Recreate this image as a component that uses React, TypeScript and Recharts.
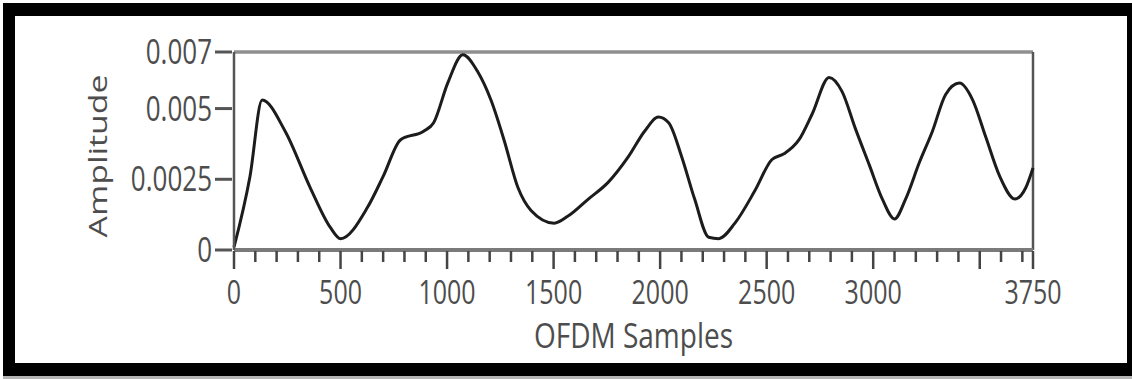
import React from 'react';
import { LineChart, Line, XAxis, YAxis, ReferenceLine } from 'recharts';

// OFDM sample index vs amplitude
const samples = [
  0, 75, 132, 240, 358, 452, 500, 626, 700, 782, 890, 937, 1003, 1074, 1144, 1206, 1267, 1333,
  1394, 1503, 1568, 1663, 1757, 1851, 1927, 1992, 2040, 2101, 2162, 2228, 2275, 2351, 2445,
  2525, 2581, 2652, 2713, 2793, 2854, 2916, 2982, 3043, 3100, 3152, 3217, 3278, 3340, 3405,
  3467, 3528, 3594, 3665, 3716, 3750,
];
const amplitude = [
  0.0001, 0.0026, 0.0053, 0.0042, 0.0022, 0.0008, 0.0004, 0.0015, 0.0026, 0.0039, 0.0042,
  0.0045, 0.0059, 0.0069, 0.0063, 0.0053, 0.0039, 0.0022, 0.0014, 0.00095, 0.0012, 0.0018,
  0.0024, 0.0033, 0.0042, 0.0047, 0.0045, 0.0033, 0.0018, 0.00045, 0.0004, 0.00095, 0.0021,
  0.0032, 0.0034, 0.0039, 0.0048, 0.0061, 0.0056, 0.0043, 0.003, 0.0018, 0.0011, 0.0018,
  0.0031, 0.0042, 0.0055, 0.0059, 0.0053, 0.004, 0.0026, 0.0018, 0.0022, 0.0029,
];

const xLabels = [0, 500, 1000, 1500, 2000, 2500, 3000, 3750];
const xMajor = [0, 500, 1000, 1500, 2000, 2500, 3000, 3500, 3750];
const xMinor = [...Array.from({ length: 38 }, (_, i) => i * 100), 3750];
const yTicks = [0, 0.0025, 0.005, 0.007];

const data = samples.map((s, i) => ({ s, a: amplitude[i] }));

const FONT = '"Open Sans", "Noto Sans", sans-serif';
const TEXT = '#4d4d4d';
const AXIS = '#7a7a7a';

const XTick = (props: any) => {
  const { x, y, payload } = props;
  const v = payload.value;
  const major = xMajor.includes(v);
  return (
    <g>
      <line x1={x} x2={x} y1={y + 1} y2={y + (major ? 19 : 12)} stroke="#444" strokeWidth={2.5} />
      {xLabels.includes(v) && (
        <text
          transform={`translate(${x},${y + 54}) scale(1,1.3)`}
          textAnchor="middle"
          fontFamily={FONT}
          fontSize={25}
          fill={TEXT}
        >
          {v}
        </text>
      )}
    </g>
  );
};

const YTick = (props: any) => {
  const { x, y, payload } = props;
  return (
    <g>
      <line x1={x - 19} x2={x - 2} y1={y} y2={y} stroke="#555" strokeWidth={3} />
      <text
        transform={`translate(${x - 22},${y + 12}) scale(1,1.3)`}
        textAnchor="end"
        fontFamily={FONT}
        fontSize={26}
        fill={TEXT}
      >
        {String(payload.value)}
      </text>
    </g>
  );
};

const XTitle = (props: any) => {
  const { viewBox } = props;
  const cx = viewBox.x + viewBox.width / 2;
  return (
    <text
      transform={`translate(${cx},${viewBox.y + 98}) scale(1,1.25)`}
      textAnchor="middle"
      fontFamily={FONT}
      fontSize={28}
      fill={TEXT}
    >
      OFDM Samples
    </text>
  );
};

const YTitle = () => (
  <text
    transform="translate(107,156) scale(1,1.3) rotate(-90)"
    textAnchor="middle"
    fontFamily={FONT}
    fontSize={26}
    fill={TEXT}
  >
    Amplitude
  </text>
);

export default function App() {
  return (
    <div style={{ position: 'absolute', left: 0, top: 0, width: 1132, height: 379, background: '#fff' }}>
      <div
        style={{
          position: 'absolute',
          left: 3,
          top: 3,
          width: 1129,
          height: 373,
          boxSizing: 'border-box',
          borderStyle: 'solid',
          borderColor: '#000',
          borderWidth: '13px 5px 13px 12px',
          boxShadow: '0 3px 0 #b5b5b5',
        }}
      />
      <div style={{ position: 'absolute', left: 0, top: 0 }}>
        <LineChart width={1132} height={379} data={data} margin={{ top: 52, right: 99, left: 0, bottom: 19 }}>
          <XAxis
            dataKey="s"
            type="number"
            domain={[0, 3750]}
            ticks={xMinor}
            interval={0}
            tickSize={0}
            tickMargin={0}
            height={110}
            axisLine={{ stroke: AXIS, strokeWidth: 4 }}
            tick={<XTick />}
            label={<XTitle />}
          />
          <YAxis
            type="number"
            domain={[0, 0.007]}
            ticks={yTicks}
            interval={0}
            tickSize={0}
            tickMargin={0}
            width={234}
            axisLine={{ stroke: '#555', strokeWidth: 2.5 }}
            tick={<YTick />}
            label={<YTitle />}
          />
          <ReferenceLine y={0.007} stroke="#8f8f8f" strokeWidth={3.5} />
          <ReferenceLine x={3750} stroke="#555" strokeWidth={2.5} />
          <Line
            type="monotone"
            dataKey="a"
            stroke="#1c1c1c"
            strokeWidth={3}
            dot={false}
            isAnimationActive={false}
          />
        </LineChart>
      </div>
    </div>
  );
}
